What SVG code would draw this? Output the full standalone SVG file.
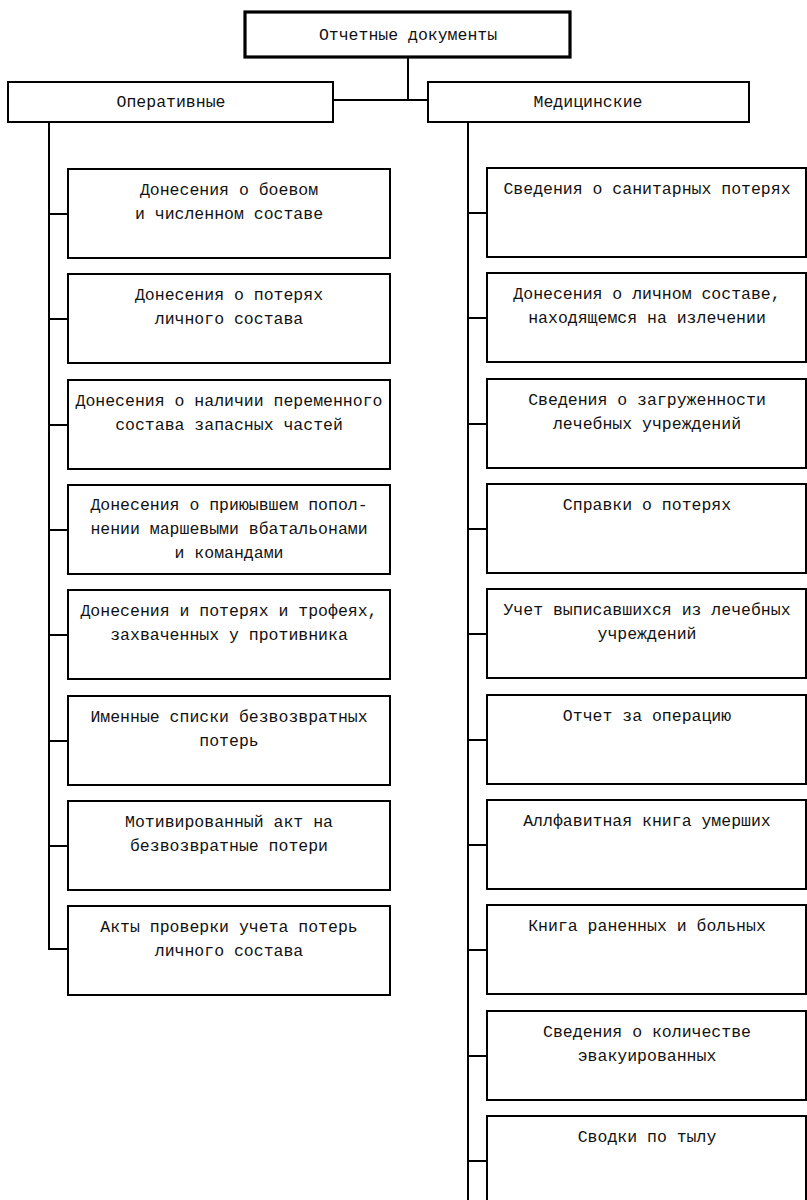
<svg xmlns="http://www.w3.org/2000/svg" width="807" height="1200" viewBox="0 0 807 1200">
<style>
.box{fill:#fff;stroke:#000;stroke-width:2}
.top{fill:#fff;stroke:#000;stroke-width:3.2}
.ln{fill:none;stroke:#000;stroke-width:2}
text{font-family:"Liberation Mono","DejaVu Sans Mono",monospace;font-size:16.5px;fill:#111;text-anchor:middle}
</style>
<rect width="807" height="1200" fill="#fff"/>
<g id="connectors">
<path class="ln" d="M408 57V100M333 100H428"/>
<path class="ln" d="M49 122V949H68"/>
<path class="ln" d="M49 214H68M49 319H68M49 425H68M49 530H68M49 635H68M49 741H68M49 846H68"/>
<path class="ln" d="M468 122V1200"/>
<path class="ln" d="M468 213H487M468 318H487M468 424H487M468 529H487M468 634H487M468 740H487M468 845H487M468 950H487M468 1056H487M468 1161H487"/>
</g>
<g id="root"><rect class="top" x="245" y="12" width="325" height="45"/><text x="408" y="40">Отчетные документы</text></g>
<g id="operative"><rect class="box" x="8" y="82" width="325" height="40"/><text x="171" y="107">Оперативные</text></g>
<g id="medical"><rect class="box" x="428" y="82" width="321" height="40"/><text x="588" y="107">Медицинские</text></g>

<g id="op1"><rect class="box" x="68" y="169" width="322" height="89"/><text x="229" y="195">Донесения о боевом</text><text x="229" y="219">и численном составе</text></g>
<g id="op2"><rect class="box" x="68" y="274" width="322" height="89"/><text x="229" y="300">Донесения о потерях</text><text x="229" y="324">личного состава</text></g>
<g id="op3"><rect class="box" x="68" y="380" width="322" height="89"/><text x="229" y="406">Донесения о наличии переменного</text><text x="229" y="430">состава запасных частей</text></g>
<g id="op4"><rect class="box" x="68" y="485" width="322" height="89"/><text x="229" y="510">Донесения о приюывшем попол-</text><text x="229" y="534">нении маршевыми вбатальонами</text><text x="229" y="558">и командами</text></g>
<g id="op5"><rect class="box" x="68" y="590" width="322" height="89"/><text x="229" y="616">Донесения и потерях и трофеях,</text><text x="229" y="640">захваченных у противника</text></g>
<g id="op6"><rect class="box" x="68" y="696" width="322" height="89"/><text x="229" y="722">Именные списки безвозвратных</text><text x="229" y="746">потерь</text></g>
<g id="op7"><rect class="box" x="68" y="801" width="322" height="89"/><text x="229" y="827">Мотивированный акт на</text><text x="229" y="851">безвозвратные потери</text></g>
<g id="op8"><rect class="box" x="68" y="906" width="322" height="89"/><text x="229" y="932">Акты проверки учета потерь</text><text x="229" y="956">личного состава</text></g>

<g id="med1"><rect class="box" x="487" y="168" width="319" height="89"/><text x="647" y="194">Сведения о санитарных потерях</text></g>
<g id="med2"><rect class="box" x="487" y="273" width="319" height="89"/><text x="647" y="299">Донесения о личном составе,</text><text x="647" y="323">находящемся на излечении</text></g>
<g id="med3"><rect class="box" x="487" y="379" width="319" height="89"/><text x="647" y="405">Сведения о загруженности</text><text x="647" y="429">лечебных учреждений</text></g>
<g id="med4"><rect class="box" x="487" y="484" width="319" height="89"/><text x="647" y="510">Справки о потерях</text></g>
<g id="med5"><rect class="box" x="487" y="589" width="319" height="89"/><text x="647" y="615">Учет выписавшихся из лечебных</text><text x="647" y="639">учреждений</text></g>
<g id="med6"><rect class="box" x="487" y="695" width="319" height="89"/><text x="647" y="721">Отчет за операцию</text></g>
<g id="med7"><rect class="box" x="487" y="800" width="319" height="89"/><text x="647" y="826">Аллфавитная книга умерших</text></g>
<g id="med8"><rect class="box" x="487" y="905" width="319" height="89"/><text x="647" y="931">Книга раненных и больных</text></g>
<g id="med9"><rect class="box" x="487" y="1011" width="319" height="89"/><text x="647" y="1037">Сведения о количестве</text><text x="647" y="1061">эвакуированных</text></g>
<g id="med10"><rect class="box" x="487" y="1116" width="319" height="89"/><text x="647" y="1142">Сводки по тылу</text></g>
</svg>
